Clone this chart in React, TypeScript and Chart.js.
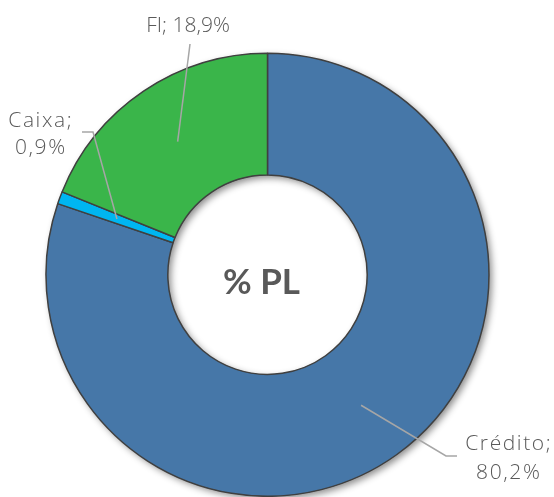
import React, { useEffect, useRef } from "react";
import { Chart, registerables } from "chart.js";

Chart.register(...registerables);

const categories = ["Crédito", "Caixa", "FI"];
const values = [80.2, 0.9, 18.9];
const colors = ["#4677A8", "#00B6F1", "#3AB54A"];
const centerText = "% PL";

// label layout (text lines, text centre x, baselines, leader line path from slice centroid)
const labelLayout = [
  { lines: ["Crédito;", "80,2%"], tx: 508, base: [450, 479], spacing: 1.6, path: [[446, 456], [457, 456]] },
  { lines: ["Caixa;", "0,9%"], tx: 40, base: [127, 154], spacing: 1.6, path: [[93, 132], [82, 132]] },
  { lines: ["FI; 18,9%"], tx: 188, base: [32], spacing: 0, path: [[190, 44]] },
];

const LABEL_FONT = "300 21px 'Open Sans', Lato, sans-serif";
const CENTER_FONT = "bold 35px Lato, 'Open Sans', sans-serif";

const ringShadow = {
  id: "ringShadow",
  beforeDatasetsDraw(chart: any) {
    const meta = chart.getDatasetMeta(0);
    const arc = meta.data[0];
    if (!arc) return;
    const { x, y, outerRadius, innerRadius } = arc.getProps(["x", "y", "outerRadius", "innerRadius"], true);
    const ctx = chart.ctx;
    ctx.save();
    ctx.shadowColor = "rgba(0,0,0,0.45)";
    ctx.shadowBlur = 7;
    ctx.shadowOffsetX = 3;
    ctx.shadowOffsetY = 3;
    ctx.fillStyle = "#404040";
    ctx.beginPath();
    ctx.arc(x, y, outerRadius, 0, Math.PI * 2);
    ctx.arc(x, y, innerRadius, 0, Math.PI * 2, true);
    ctx.closePath();
    ctx.fill("evenodd");
    ctx.restore();
  },
};

const labelsPlugin = {
  id: "sliceLabels",
  afterDatasetsDraw(chart: any) {
    const meta = chart.getDatasetMeta(0);
    const ctx = chart.ctx;
    ctx.save();
    meta.data.forEach((el: any, i: number) => {
      const lay = labelLayout[i];
      const p = el.tooltipPosition();
      ctx.strokeStyle = "#A6A6A6";
      ctx.lineWidth = 1.5;
      ctx.beginPath();
      ctx.moveTo(p.x, p.y);
      lay.path.forEach((pt) => ctx.lineTo(pt[0], pt[1]));
      ctx.stroke();
      ctx.fillStyle = "#595959";
      ctx.font = LABEL_FONT;
      (ctx as any).letterSpacing = `${lay.spacing}px`;
      ctx.textAlign = "center";
      ctx.textBaseline = "alphabetic";
      lay.lines.forEach((t, j) => ctx.fillText(t, lay.tx + lay.spacing / 2, lay.base[j]));
    });
    (ctx as any).letterSpacing = "0px";
    const a = meta.data[0];
    if (a) {
      ctx.fillStyle = "#595959";
      ctx.font = CENTER_FONT;
      ctx.textAlign = "center";
      ctx.textBaseline = "middle";
      ctx.fillText(centerText, a.x - 6, a.y + 8);
    }
    ctx.restore();
  },
};

export default function App() {
  const ref = useRef<HTMLCanvasElement>(null);
  useEffect(() => {
    if (!ref.current) return;
    const chart = new Chart(ref.current, {
      type: "doughnut",
      data: {
        labels: categories,
        datasets: [
          {
            data: values,
            backgroundColor: colors,
            borderColor: "#404040",
            borderWidth: 1.5,
          },
        ],
      },
      options: {
        responsive: false,
        maintainAspectRatio: false,
        animation: false,
        cutout: "45%",
        layout: { padding: { left: 45, right: 64, top: 52.5, bottom: 0 } },
        plugins: {
          legend: { display: false },
          tooltip: { enabled: false },
        },
      },
      plugins: [ringShadow, labelsPlugin],
    });
    return () => chart.destroy();
  }, []);
  return (
    <div style={{ position: "absolute", left: 0, top: 0, width: 554, height: 497, background: "#fff" }}>
      <canvas ref={ref} width={554} height={497} style={{ display: "block" }} />
    </div>
  );
}
